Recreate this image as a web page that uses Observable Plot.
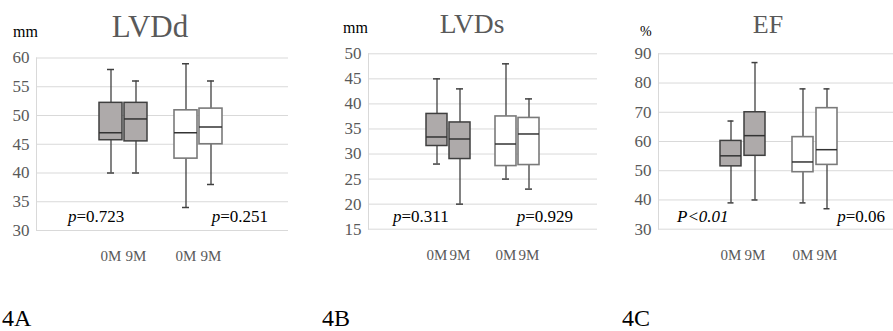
<!DOCTYPE html>
<html>
<head>
<meta charset="utf-8">
<script src="https://cdn.jsdelivr.net/npm/d3@7"></script>
<script src="https://cdn.jsdelivr.net/npm/@observablehq/plot@0.6"></script>
<style>
  html, body { margin: 0; padding: 0; background: #fff; }
  #wrap { position: relative; width: 893px; height: 331px; overflow: hidden; background: #fff; }
  #wrap svg.panel { position: absolute; top: 0; }
  #overlay { position: absolute; left: 0; top: 0; }
</style>
</head>
<body>
<div id="wrap"></div>
<script>
// ---- data ----
const categories = ["1-0M", "1-9M", "gap", "2-0M", "2-9M"];
const boxKeys = ["1-0M", "1-9M", "2-0M", "2-9M"];
const boxGroups = [1, 1, 2, 2];
const tickLabels = {"1-0M": "0M", "1-9M": "9M", "gap": "", "2-0M": "0M", "2-9M": "9M"};

const lvddMin = [40, 40, 34, 38];
const lvddQ1  = [45.7, 45.5, 42.5, 45];
const lvddMed = [47, 49.4, 47, 48];
const lvddQ3  = [52.2, 52.2, 50.9, 51.2];
const lvddMax = [58, 56, 59, 56];
const lvddTicks = [30, 35, 40, 45, 50, 55, 60];

const lvdsMin = [28, 20, 25, 23];
const lvdsQ1  = [31.6, 29, 27.6, 27.8];
const lvdsMed = [33.4, 33, 32, 34];
const lvdsQ3  = [38, 36.3, 37.5, 37.2];
const lvdsMax = [45, 43, 48, 41];
const lvdsTicks = [15, 20, 25, 30, 35, 40, 45, 50];

const efMin = [39, 40, 39, 37];
const efQ1  = [51.5, 55.1, 49.5, 52];
const efMed = [55.1, 62, 53, 57.2];
const efQ3  = [60.2, 70, 61.5, 71.4];
const efMax = [67, 87, 78, 78];
const efTicks = [30, 40, 50, 60, 70, 80, 90];

const titles = ["LVDd", "LVDs", "EF"];
const units = ["mm", "mm", "%"];
const pLeft = ["p=0.723", "p=0.311", "P<0.01"];
const pRight = ["p=0.251", "p=0.929", "p=0.06"];
const panelLabels = ["4A", "4B", "4C"];

// ---- build ----
function rows(mn, q1, md, q3, mx) {
  return boxKeys.map((k, i) => ({key: k, group: boxGroups[i], min: mn[i], q1: q1[i], med: md[i], q3: q3[i], max: mx[i]}));
}

const FONT = 'Times New Roman, Times, Liberation Serif, DejaVu Serif, Noto Serif, serif';

function panel(data, ticks, cfg) {
  const g1 = data.filter(d => d.group === 1);
  const g2 = data.filter(d => d.group === 2);
  const svg = Plot.plot({
    width: cfg.width,
    height: 270,
    marginLeft: cfg.ml,
    marginRight: cfg.mr,
    marginTop: cfg.mt,
    marginBottom: 270 - cfg.bottom,
    style: {fontFamily: FONT, fontSize: "17px", color: "#595959", background: "transparent", overflow: "visible"},
    x: {type: "band", domain: categories, paddingInner: cfg.pi, paddingOuter: cfg.po, align: cfg.align, label: null},
    y: {domain: [ticks[0], ticks[ticks.length - 1]], ticks: ticks, tickSize: 0, tickPadding: 7, label: null},
    marks: [
      Plot.gridY(ticks, {stroke: "#d9d9d9", strokeOpacity: 1, strokeWidth: 1}),
      Plot.frame({anchor: "left", stroke: "#d9d9d9", strokeWidth: 1}),
      Plot.axisX({tickSize: 0, tickPadding: 20, tickFormat: d => tickLabels[d], fontSize: 15, label: null, fill: "#595959"}),
      Plot.ruleX(data, {x: "key", y1: "min", y2: "max", stroke: "#404040", strokeWidth: 1.3}),
      Plot.tickY(data, {x: "key", y: "min", stroke: "#404040", strokeWidth: 1.5, insetLeft: cfg.cap, insetRight: cfg.cap}),
      Plot.tickY(data, {x: "key", y: "max", stroke: "#404040", strokeWidth: 1.5, insetLeft: cfg.cap, insetRight: cfg.cap}),
      Plot.barY(g1, {x: "key", y1: "q1", y2: "q3", fill: "#aeaaaa", stroke: "#3f3f3f", strokeWidth: 1.5}),
      Plot.barY(g2, {x: "key", y1: "q1", y2: "q3", fill: "#ffffff", stroke: "#7a7a7a", strokeWidth: 1.6}),
      Plot.tickY(data, {x: "key", y: "med", stroke: "#333333", strokeWidth: 1.5})
    ]
  });
  svg.classList.add("panel");
  svg.style.left = cfg.left + "px";
  return svg;
}

const wrap = document.getElementById("wrap");
wrap.appendChild(panel(rows(lvddMin, lvddQ1, lvddMed, lvddQ3, lvddMax), lvddTicks,
  {left: 0, width: 300, ml: 36, mr: 12, mt: 57.5, bottom: 230, pi: 0.1, po: 2.49, align: 0.484, cap: 8}));
wrap.appendChild(panel(rows(lvdsMin, lvdsQ1, lvdsMed, lvdsQ3, lvdsMax), lvdsTicks,
  {left: 300, width: 300, ml: 68, mr: 3, mt: 53.3, bottom: 228.7, pi: 0.1, po: 2.42, align: 0.5, cap: 7}));
wrap.appendChild(panel(rows(efMin, efQ1, efMed, efQ3, efMax), efTicks,
  {left: 600, width: 293, ml: 58, mr: 0, mt: 53.3, bottom: 228.7, pi: 0.11, po: 2.305, align: 0.53, cap: 7.5}));

// ---- text overlay ----
const ns = "http://www.w3.org/2000/svg";
const ov = document.createElementNS(ns, "svg");
ov.setAttribute("id", "overlay");
ov.setAttribute("width", 893);
ov.setAttribute("height", 331);
ov.setAttribute("font-family", FONT);
wrap.appendChild(ov);

function txt(x, y, size, fill, anchor, parts) {
  const t = document.createElementNS(ns, "text");
  t.setAttribute("x", x); t.setAttribute("y", y);
  t.setAttribute("font-size", size); t.setAttribute("fill", fill);
  t.setAttribute("text-anchor", anchor);
  for (const [s, it] of parts) {
    const sp = document.createElementNS(ns, "tspan");
    sp.textContent = s;
    if (it) sp.setAttribute("font-style", "italic");
    t.appendChild(sp);
  }
  ov.appendChild(t);
}
function pParts(s) {
  if (s.startsWith("P<")) return [[s, true]];
  return [[s.slice(0, 1), true], [s.slice(1), false]];
}

const titleX = [150, 472, 768], titleY = [37, 33, 33], titleSize = [31, 27.5, 26];
const unitX = [13, 343, 640], unitY = [37, 33, 36], unitSize = [16, 16, 14];
const pLX = [68, 393, 677], pRX = [268, 573, 885];
const labX = [2, 322, 622];
for (let i = 0; i < 3; i++) {
  txt(titleX[i], titleY[i], titleSize[i], "#595959", "middle", [[titles[i], false]]);
  txt(unitX[i], unitY[i], unitSize[i], "#000", "start", [[units[i], false]]);
  txt(pLX[i], 222, 17, "#000", "start", pParts(pLeft[i]));
  txt(pRX[i], 222, 17, "#000", "end", pParts(pRight[i]));
  txt(labX[i], 326, 24, "#000", "start", [[panelLabels[i], false]]);
}
</script>
</body>
</html>
